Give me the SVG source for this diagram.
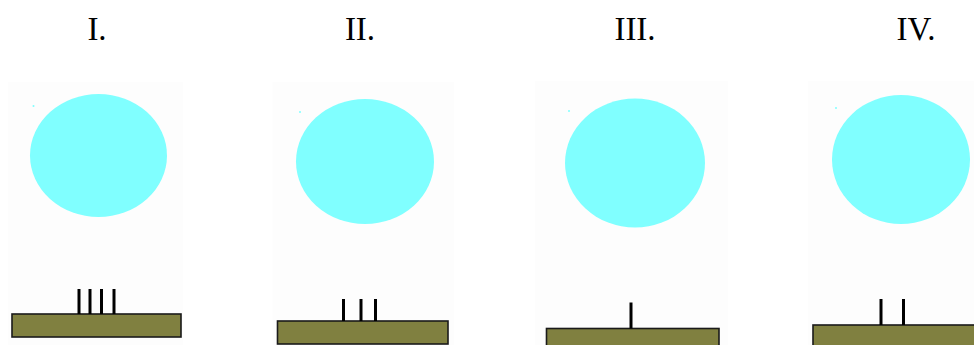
<svg xmlns="http://www.w3.org/2000/svg" width="974" height="345" viewBox="0 0 974 345">
<style>
.lbl{font-family:"Liberation Serif","Times New Roman",serif;font-size:33px;fill:#000;text-anchor:middle}
.bg{fill:#fdfdfd}
.cell{fill:#80ffff}
.bar{fill:#808040;stroke:#1a1a1a;stroke-width:1.6}
.pin{stroke:#000;stroke-width:3}
</style>
<rect width="974" height="345" fill="#ffffff"/>
<g id="panel1">
<text class="lbl" x="97" y="40">I.</text>
<rect class="bg" x="8" y="82" width="175" height="263"/>
<ellipse class="cell" cx="98.5" cy="155.5" rx="68.5" ry="61.5"/>
<circle class="cell" cx="33.5" cy="106" r="1"/>
<rect class="bar" x="12" y="314" width="169" height="23"/>
<g>
<line class="pin" x1="79" y1="289" x2="79" y2="314"/>
<line class="pin" x1="90" y1="289" x2="90" y2="314"/>
<line class="pin" x1="101.5" y1="289" x2="101.5" y2="314"/>
<line class="pin" x1="114" y1="289" x2="114" y2="314"/>
</g>
</g>
<g id="panel2">
<text class="lbl" x="360" y="40">II.</text>
<rect class="bg" x="272.5" y="82" width="181.5" height="263"/>
<ellipse class="cell" cx="365" cy="161.5" rx="69" ry="62.5"/>
<circle class="cell" cx="300" cy="112" r="1"/>
<rect class="bar" x="277.5" y="321" width="170.5" height="23"/>
<g>
<line class="pin" x1="343.5" y1="299" x2="343.5" y2="321"/>
<line class="pin" x1="361" y1="299" x2="361" y2="321"/>
<line class="pin" x1="375.5" y1="299" x2="375.5" y2="321"/>
</g>
</g>
<g id="panel3">
<text class="lbl" x="635" y="40">III.</text>
<rect class="bg" x="535" y="81" width="193" height="264"/>
<ellipse class="cell" cx="635" cy="163" rx="70" ry="64.5"/>
<circle class="cell" cx="569" cy="111" r="1"/>
<rect class="bar" x="546.5" y="328.5" width="172.5" height="20"/>
<line class="pin" x1="631" y1="302.5" x2="631" y2="328.5"/>
</g>
<g id="panel4">
<text class="lbl" x="916" y="40">IV.</text>
<rect class="bg" x="808" y="81" width="166" height="264"/>
<ellipse class="cell" cx="901" cy="159.5" rx="69" ry="64.5"/>
<circle class="cell" cx="836" cy="108" r="1"/>
<rect class="bar" x="813" y="325" width="170" height="25"/>
<g>
<line class="pin" x1="881" y1="299" x2="881" y2="325"/>
<line class="pin" x1="903.5" y1="299" x2="903.5" y2="325"/>
</g>
</g>
<g id="connectors"/>
</svg>
